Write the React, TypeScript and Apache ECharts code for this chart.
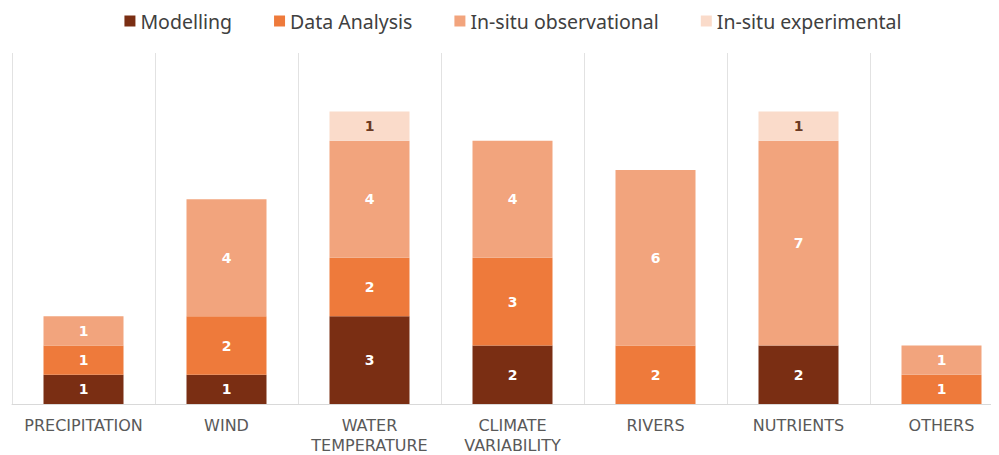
import React, { useEffect, useRef } from "react";
import * as echarts from "echarts";

const categories = [
  "PRECIPITATION",
  "WIND",
  "WATER\nTEMPERATURE",
  "CLIMATE\nVARIABILITY",
  "RIVERS",
  "NUTRIENTS",
  "OTHERS",
];
const modelling = [1, 1, 3, 2, 0, 2, 0];
const dataAnalysis = [1, 2, 2, 3, 2, 0, 1];
const insituObservational = [1, 4, 4, 4, 6, 7, 1];
const insituExperimental = [0, 0, 1, 0, 0, 1, 0];

const seriesDefs = [
  { name: "Modelling", data: modelling, color: "#7A2E13", text: "#ffffff" },
  { name: "Data Analysis", data: dataAnalysis, color: "#EE7A3B", text: "#ffffff" },
  { name: "In-situ observational", data: insituObservational, color: "#F2A47D", text: "#ffffff" },
  { name: "In-situ experimental", data: insituExperimental, color: "#FADBCA", text: "#6B3A22" },
];

export default function App() {
  const ref = useRef<HTMLDivElement>(null);

  useEffect(() => {
    if (!ref.current) return;
    const chart = echarts.init(ref.current, null, { renderer: "svg" });
    chart.setOption({
      animation: false,
      backgroundColor: "#ffffff",
      legend: {
        top: -2,
        left: "center",
        itemWidth: 11,
        itemHeight: 11,
        itemGap: 42,
        icon: "rect",
        textStyle: {
          fontFamily: "Noto Sans, sans-serif",
          fontSize: 19.5,
          color: "#404040",
        },
        data: seriesDefs.map((s) => s.name),
      },
      grid: { left: 4, right: 5, top: 45, bottom: 51, containLabel: false },
      xAxis: {
        type: "category",
        data: categories,
        axisTick: { show: false },
        axisLine: { show: true, lineStyle: { color: "#d9d9d9", width: 1 } },
        splitLine: { show: true, interval: 0, lineStyle: { color: "#e2e2e2", width: 1 } },
        axisLabel: {
          interval: 0,
          margin: 11,
          lineHeight: 20,
          fontFamily: "DejaVu Sans, sans-serif",
          fontSize: 16,
          color: "#595959",
        },
      },
      yAxis: {
        type: "value",
        min: 0,
        max: 12,
        show: false,
        splitLine: { show: false },
      },
      series: seriesDefs.map((s) => ({
        name: s.name,
        type: "bar",
        stack: "total",
        barWidth: 80,
        data: s.data,
        itemStyle: { color: s.color },
        label: {
          show: true,
          position: "inside",
          color: s.text,
          fontFamily: "DejaVu Sans, sans-serif",
          fontSize: 14,
          fontWeight: "bold",
          formatter: (p: any) => (p.value ? String(p.value) : ""),
        },
      })),
    });
    return () => chart.dispose();
  }, []);

  return (
    <div style={{ width: 991, height: 447, overflow: "hidden" }}>
      <div ref={ref} style={{ width: 1010, height: 447 }} />
    </div>
  );
}
